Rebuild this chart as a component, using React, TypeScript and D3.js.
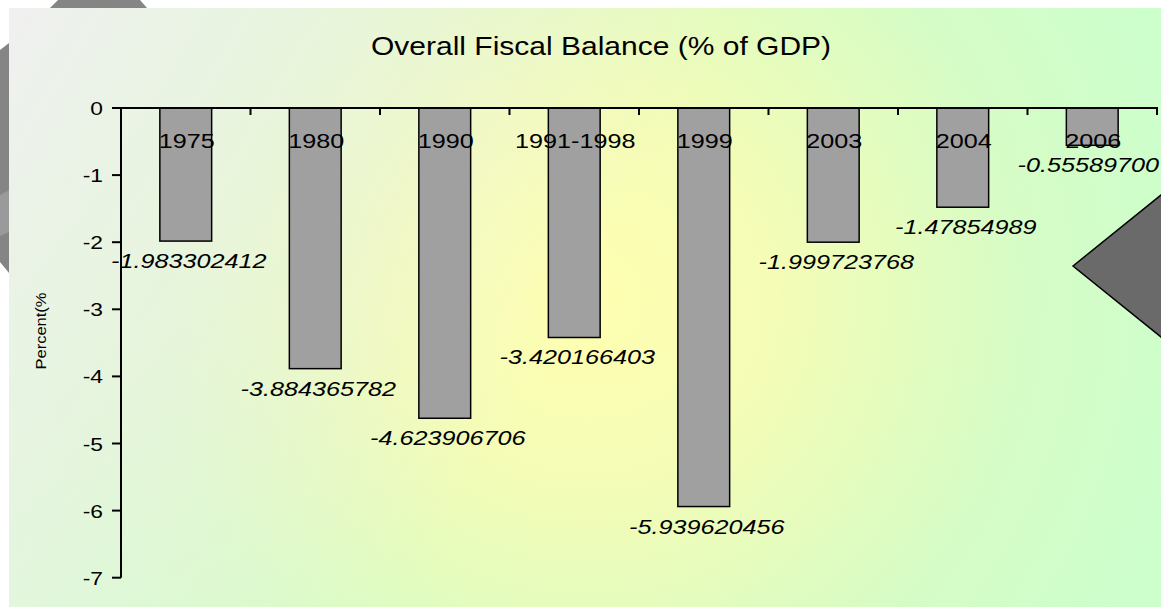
import React from "react";
import * as d3 from "d3";

const categories = ["1975", "1980", "1990", "1991-1998", "1999", "2003", "2004", "2006"];
const values = [-1.983302412, -3.884365782, -4.623906706, -3.420166403, -5.939620456, -1.999723768, -1.47854989, -0.555897];
const valueLabels = ["-1.983302412", "-3.884365782", "-4.623906706", "-3.420166403", "-5.939620456", "-1.999723768", "-1.47854989", "-0.55589700"];
const yTicks = [0, -1, -2, -3, -4, -5, -6, -7];
const title = "Overall Fiscal Balance (% of GDP)";
const yTitle = "Percent(%";

const W = 1161;
const H = 607;
const FONT = "Arial, 'Liberation Sans', Helvetica, sans-serif";
const SX = 1.2;
const LABEL_FS = 21;

// approximate Arial advance widths (em) for digits and signs
const charW = (s: string) =>
  s.split("").reduce((a, ch) => a + (ch === "-" ? 0.333 : ch === "." ? 0.278 : 0.556), 0);

export default function App() {
  const x0 = 121;
  const x1 = 1157;
  const x = d3.scaleBand<string>().domain(categories).range([x0, x1]).paddingInner(0.6).paddingOuter(0.3);
  const y = d3.scaleLinear().domain([-7, 0]).range([577.7, 108]);
  const step = x.step();
  const boundaries = d3.range(categories.length + 1).map((i) => x0 + i * step);

  return (
    <svg width={W} height={H} style={{ position: "absolute", left: 0, top: 0, display: "block" }}>
      <defs>
        <radialGradient id="bgRad" gradientUnits="userSpaceOnUse" cx={590} cy={300} r={620}>
          <stop offset="0" stopColor="#ffffb0" />
          <stop offset="0.3" stopColor="#f4fcb6" />
          <stop offset="0.7" stopColor="#d6fcc6" />
          <stop offset="1" stopColor="#ccffcc" />
        </radialGradient>
        <linearGradient id="bgTL" gradientUnits="userSpaceOnUse" x1={9} y1={8} x2={560} y2={330}>
          <stop offset="0" stopColor="#f0f0f0" stopOpacity={1} />
          <stop offset="0.45" stopColor="#eef2e6" stopOpacity={0.7} />
          <stop offset="1" stopColor="#f0f0e0" stopOpacity={0} />
        </linearGradient>
        <clipPath id="panelClip">
          <rect x={9} y={8} width={W - 9} height={H - 8} />
        </clipPath>
      </defs>
      <rect x={0} y={0} width={W} height={H} fill="#ffffff" />
      {/* decorative shapes outside panel */}
      <polygon points="50,8 58,0 140,0 147,8" fill="#858585" />
      <polygon points="0,50 9,43 9,273 0,262" fill="#858585" />
      <polygon points="0,195 9,190 9,232 0,236" fill="#9a9a9a" />
      <g clipPath="url(#panelClip)">
        <rect x={9} y={8} width={W - 9} height={H - 8} fill="url(#bgRad)" />
        <rect x={9} y={8} width={W - 9} height={H - 8} fill="url(#bgTL)" />
        <polygon points="1073,266 1161,195 1250,266 1161,337" fill="#6a6a6a" stroke="#000" strokeWidth={1.5} />

        <text transform={`translate(601,55) scale(${SX},1)`} textAnchor="middle" fontFamily={FONT} fontSize={25} fill="#000">
          {title}
        </text>

        {/* bars */}
        {categories.map((c, i) => (
          <rect
            key={c}
            x={x(c)}
            y={y(0)}
            width={x.bandwidth()}
            height={y(values[i]) - y(0)}
            fill="#a0a0a0"
            stroke="#000"
            strokeWidth={1.5}
          />
        ))}

        {/* y axis */}
        <line x1={x0} x2={x0} y1={y(0)} y2={y(-7)} stroke="#000" strokeWidth={2} />
        {yTicks.map((t) => (
          <g key={t}>
            <line x1={x0 - 9} x2={x0} y1={y(t)} y2={y(t)} stroke="#000" strokeWidth={2} />
            <text transform={`translate(103,${y(t) + 7}) scale(${SX},1)`} textAnchor="end" fontFamily={FONT} fontSize={19} fill="#000">
              {t}
            </text>
          </g>
        ))}

        {/* x axis */}
        <line x1={x0 - 9} x2={x1 + 1} y1={y(0)} y2={y(0)} stroke="#000" strokeWidth={2} />
        {boundaries.map((b, i) => (
          <line key={i} x1={b} x2={b} y1={y(0)} y2={y(0) + 7} stroke="#000" strokeWidth={2} />
        ))}
        {categories.map((c) => (
          <text
            key={c}
            transform={`translate(${(x(c) as number) + x.bandwidth() / 2 + 1},148) scale(${SX},1)`}
            textAnchor="middle"
            fontFamily={FONT}
            fontSize={21}
            fill="#000"
          >
            {c}
          </text>
        ))}

        {/* value labels */}
        {categories.map((c, i) => {
          const half = (charW(valueLabels[i]) * LABEL_FS * SX) / 2;
          const cx = Math.min((x(c) as number) + x.bandwidth() / 2 + 3, W - 2 - half);
          return (
            <text
              key={c}
              transform={`translate(${cx},${y(values[i]) + 27}) scale(${SX},1)`}
              textAnchor="middle"
              fontFamily={FONT}
              fontStyle="italic"
              fontSize={LABEL_FS}
              fill="#000"
            >
              {valueLabels[i]}
            </text>
          );
        })}

        {/* y title */}
        <text
          transform={`translate(46,331) scale(${SX},1) rotate(-90)`}
          textAnchor="middle"
          fontFamily={FONT}
          fontSize={11.5}
          textLength={77}
          lengthAdjust="spacingAndGlyphs"
          fill="#000"
        >
          {yTitle}
        </text>
      </g>
    </svg>
  );
}
